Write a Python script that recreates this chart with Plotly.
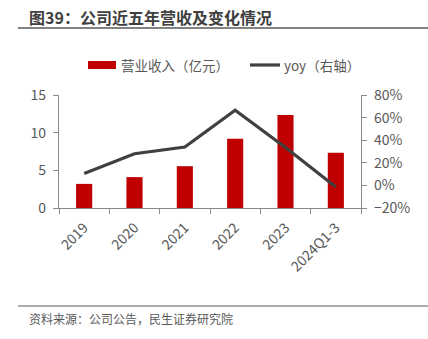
import plotly.graph_objects as go

categories = ["2019", "2020", "2021", "2022", "2023", "2024Q1-3"]
revenue = [3.2, 4.1, 5.55, 9.2, 12.35, 7.35]
yoy = [0.105, 0.28, 0.34, 0.665, 0.335, -0.015]

FONT = "Noto Sans CJK SC"
TICK = "#595959"
AXIS = "#898989"

fig = go.Figure()
fig.add_trace(go.Bar(x=categories, y=revenue, name="营业收入（亿元）",
                     marker=dict(color="#C00000", line=dict(width=0)),
                     yaxis="y"))
fig.add_trace(go.Scatter(x=categories, y=yoy, name="yoy（右轴）", mode="lines",
                         line=dict(color="#404040", width=3.2), yaxis="y2"))

fig.update_layout(
    width=428, height=339,
    margin=dict(l=59, r=67, t=95, b=131),
    paper_bgcolor="white", plot_bgcolor="white",
    showlegend=False,
    bargap=0.68,
    font=dict(family=FONT, size=14, color=TICK),
    xaxis=dict(showline=True, linecolor=AXIS, linewidth=1.2, ticks="outside",
               tickson="boundaries", ticklen=5, tickcolor=AXIS, tickangle=-45,
               ticklabelstandoff=5,
               tickfont=dict(size=14, color=TICK), showgrid=False),
    yaxis=dict(range=[0, 15], dtick=5, showline=True, linecolor=AXIS, linewidth=1.2,
               ticks="outside", ticklen=5, tickcolor=AXIS, showgrid=False, zeroline=False,
               ticklabelstandoff=4,
               tickfont=dict(size=14, color=TICK)),
    yaxis2=dict(range=[-0.2, 0.8], dtick=0.2, tickformat=".0%", overlaying="y", side="right",
                showline=True, linecolor=AXIS, linewidth=1.2, ticks="outside", ticklen=5,
                tickcolor=AXIS, showgrid=False, zeroline=False, ticklabelstandoff=4,
                tickfont=dict(size=14, color=TICK)),
)


def px_x(px):
    return (px - 59) / 302


def px_y(py):
    return (208 - py) / 113


# title and rules
fig.add_annotation(text="<b>图39：公司近五年营收及变化情况</b>", xref="paper", yref="paper",
                   x=px_x(27), y=px_y(17), xanchor="left", yanchor="middle",
                   showarrow=False, font=dict(family=FONT, size=16, color="#3f3f3f"))
fig.add_shape(type="line", xref="paper", yref="paper", x0=px_x(18), x1=px_x(428),
              y0=px_y(28), y1=px_y(28), line=dict(color="#595959", width=1.5))
fig.add_shape(type="line", xref="paper", yref="paper", x0=px_x(18), x1=px_x(428),
              y0=px_y(306), y1=px_y(306), line=dict(color="#595959", width=1.2))
fig.add_annotation(text="资料来源：公司公告，民生证券研究院", xref="paper", yref="paper",
                   x=px_x(27), y=px_y(318), xanchor="left", yanchor="middle",
                   showarrow=False, font=dict(family=FONT, size=12, color="#595959"))

# legend
fig.add_shape(type="rect", xref="paper", yref="paper", x0=px_x(88), x1=px_x(116),
              y0=px_y(69), y1=px_y(61), fillcolor="#C00000", line=dict(width=0))
fig.add_annotation(text="营业收入（亿元）", xref="paper", yref="paper", x=px_x(119), y=px_y(65),
                   xanchor="left", yanchor="middle", showarrow=False,
                   font=dict(family=FONT, size=13.5, color="#595959"))
fig.add_shape(type="line", xref="paper", yref="paper", x0=px_x(250), x1=px_x(280),
              y0=px_y(65), y1=px_y(65), line=dict(color="#404040", width=3.2))
fig.add_annotation(text="yoy（右轴）", xref="paper", yref="paper", x=px_x(282), y=px_y(65),
                   xanchor="left", yanchor="middle", showarrow=False,
                   font=dict(family=FONT, size=13.5, color="#595959"))

fig.write_html("out.html")
